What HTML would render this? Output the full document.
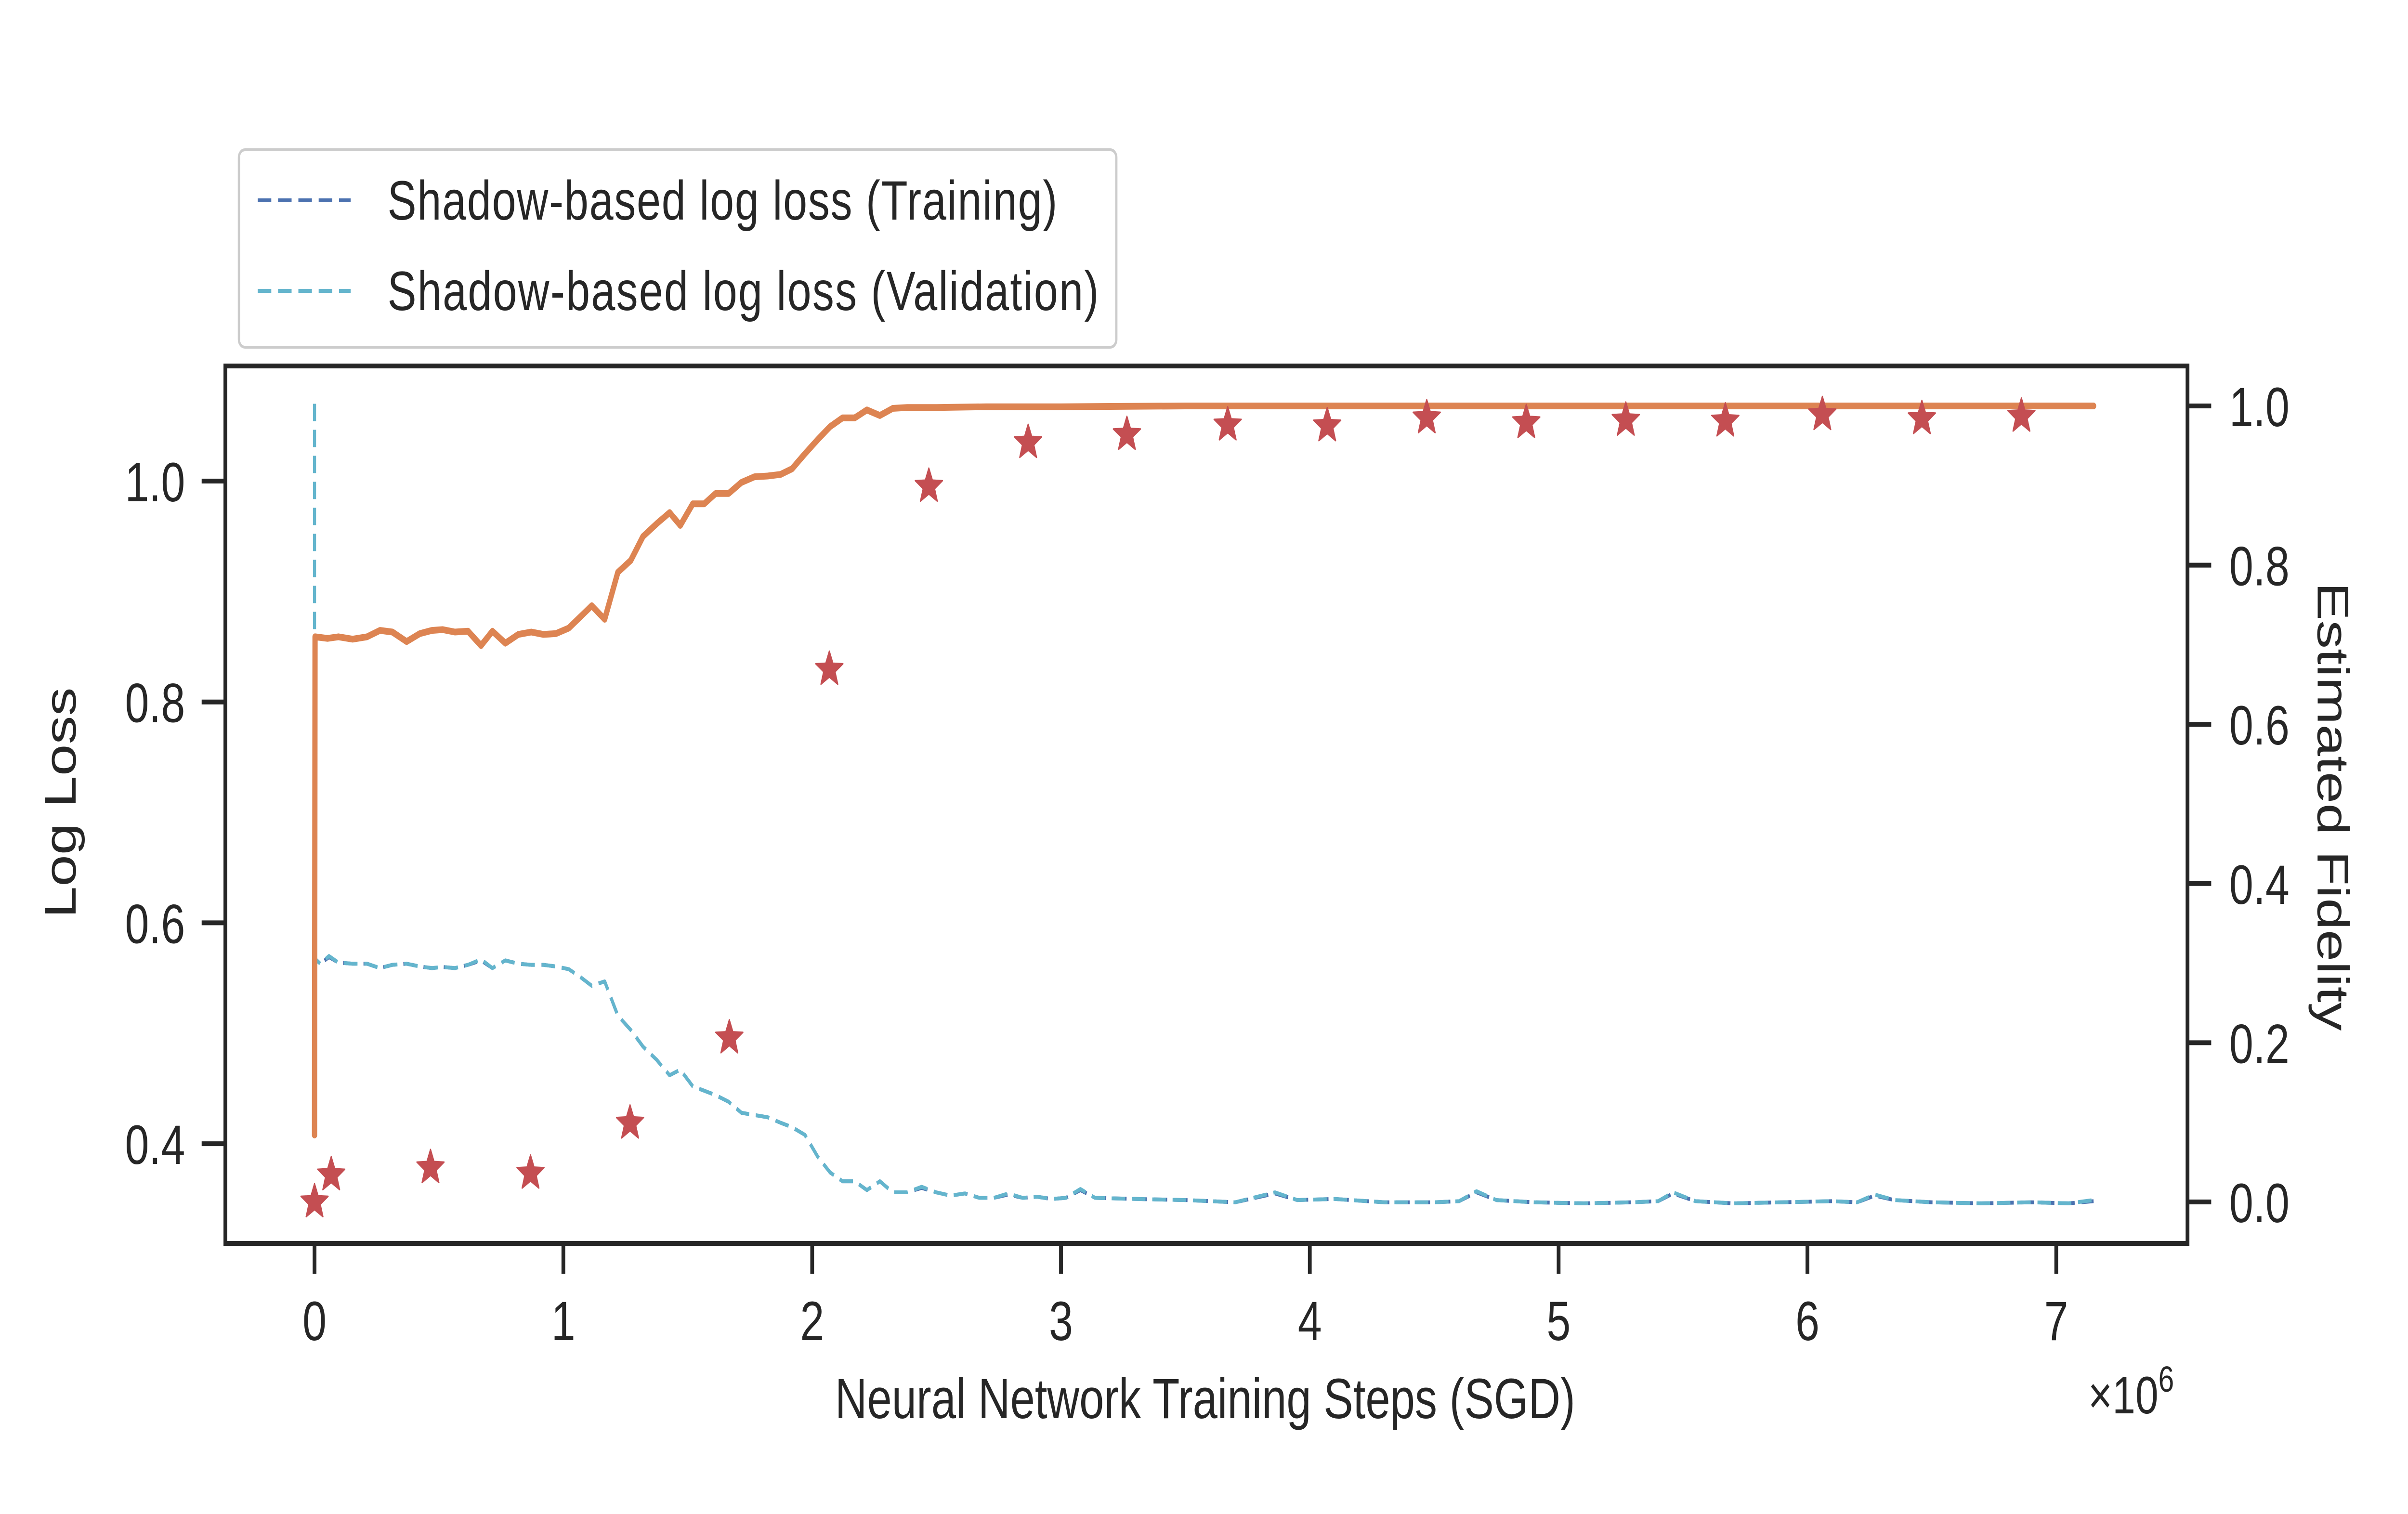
<!DOCTYPE html>
<html><head><meta charset="utf-8"><style>
html,body{margin:0;padding:0;background:#fff;overflow:hidden;width:100%;height:100%;}
svg{display:block;font-family:"Liberation Sans",sans-serif;width:100vw;height:100vh;}
</style></head><body>
<svg id="chart" viewBox="0 0 6400 3144" preserveAspectRatio="none" xmlns="http://www.w3.org/2000/svg">
<rect x="0" y="0" width="6400" height="3144" fill="#fff"/>
<g id="marks"></g>
<g id="axes"></g>
<rect x="599" y="760" width="5215" height="1822" fill="none" stroke="#262626" stroke-width="10"/>
<text x="201" y="1667" font-size="118" fill="#262626" text-anchor="middle" transform="rotate(-90 201 1667)">Log Loss</text>
<text x="6160" y="1675" font-size="118" fill="#262626" text-anchor="middle" transform="rotate(90 6160 1675)">Estimated Fidelity</text>
<text x="3203" y="2945" font-size="118" fill="#262626" text-anchor="middle">Neural Network Training Steps (SGD)</text>
<text x="5550" y="2935" font-size="110" fill="#262626">×10<tspan font-size="75" dy="-45">6</tspan></text>
<g>
<rect x="635" y="311" width="2332" height="410" rx="16" fill="#fff" stroke="#cccccc" stroke-width="6"/>
<line x1="685" y1="416" x2="932" y2="416" stroke="#4c72b0" stroke-width="8" stroke-dasharray="36,18"/>
<text x="1030" y="456" font-size="115" fill="#262626" textLength="1780">Shadow-based log loss (Training)</text>
<line x1="685" y1="604" x2="932" y2="604" stroke="#64b5cd" stroke-width="8" stroke-dasharray="36,18"/>
<text x="1030" y="644" font-size="115" fill="#262626" textLength="1890">Shadow-based log loss (Validation)</text>
</g>
</svg>
<script>
const xTicks = [0,1,2,3,4,5,6,7];
const yLeftTicks = [0.4,0.6,0.8,1.0];
const yRightTicks = [0.0,0.2,0.4,0.6,0.8,1.0];
const fidSteps = [0,0.002,0.052,0.096,0.153,0.211,0.263,0.313,0.370,0.423,0.472,0.515,0.564,0.617,0.669,0.715,0.767,0.819,0.871,0.920,0.970,1.022,1.068,1.114,1.166,1.219,1.271,1.320,1.375,1.427,1.470,1.520,1.566,1.612,1.664,1.716,1.768,1.821,1.873,1.919,1.971,2.023,2.072,2.122,2.171,2.220,2.272,2.324,2.382,2.5,2.7,3.0,3.5,4.0,4.5,5.0,5.5,6.0,6.5,7.15];
const fidValues = [0.084,0.710,0.708,0.710,0.707,0.710,0.718,0.716,0.704,0.714,0.718,0.719,0.716,0.717,0.699,0.717,0.702,0.713,0.716,0.713,0.714,0.721,0.735,0.749,0.732,0.791,0.806,0.836,0.852,0.866,0.850,0.877,0.877,0.890,0.890,0.904,0.911,0.912,0.914,0.921,0.940,0.958,0.974,0.985,0.985,0.995,0.988,0.997,0.998,0.998,0.999,0.999,1.0,1.0,1.0,1.0,1.0,1.0,1.0,1.0];
const lossSteps = [0,0,0.023,0.058,0.096,0.153,0.211,0.263,0.313,0.370,0.423,0.472,0.515,0.564,0.617,0.669,0.715,0.767,0.819,0.871,0.920,0.970,1.022,1.068,1.114,1.166,1.219,1.271,1.320,1.375,1.427,1.470,1.520,1.566,1.612,1.664,1.716,1.768,1.821,1.873,1.919,1.971,2.023,2.072,2.122,2.171,2.220,2.272,2.324,2.382,2.440,2.498,2.556,2.614,2.672,2.730,2.788,2.846,2.904,2.962,3.020,3.078,3.137,3.3,3.5,3.7,3.86,3.95,4.1,4.3,4.5,4.6,4.67,4.75,4.9,5.1,5.3,5.4,5.46,5.55,5.7,5.9,6.1,6.2,6.27,6.35,6.5,6.7,6.9,7.05,7.15];
const valLoss = [1.07,0.568,0.563,0.570,0.564,0.563,0.563,0.559,0.562,0.563,0.5605,0.559,0.560,0.559,0.562,0.567,0.559,0.566,0.563,0.562,0.562,0.5605,0.558,0.551,0.543,0.547,0.516,0.503,0.488,0.476,0.462,0.467,0.452,0.448,0.444,0.438,0.428,0.426,0.424,0.419,0.415,0.408,0.388,0.374,0.366,0.366,0.358,0.366,0.356,0.356,0.361,0.356,0.353,0.355,0.351,0.351,0.355,0.351,0.352,0.350,0.351,0.359,0.351,0.350,0.349,0.347,0.356,0.349,0.350,0.347,0.347,0.348,0.357,0.349,0.347,0.346,0.347,0.348,0.356,0.348,0.346,0.347,0.348,0.347,0.354,0.349,0.347,0.346,0.347,0.346,0.349];
const trainLoss = [0.86,0.568,0.563,0.569,0.564,0.563,0.563,0.559,0.562,0.563,0.5605,0.559,0.560,0.559,0.562,0.566,0.559,0.566,0.563,0.562,0.562,0.5605,0.558,0.551,0.543,0.547,0.516,0.503,0.488,0.476,0.462,0.467,0.452,0.448,0.444,0.438,0.428,0.426,0.424,0.419,0.415,0.408,0.388,0.374,0.366,0.366,0.358,0.366,0.356,0.356,0.360,0.356,0.353,0.355,0.351,0.351,0.354,0.351,0.352,0.350,0.351,0.358,0.351,0.350,0.349,0.347,0.355,0.349,0.350,0.347,0.347,0.348,0.356,0.349,0.347,0.346,0.347,0.348,0.355,0.348,0.346,0.347,0.348,0.347,0.353,0.349,0.347,0.346,0.347,0.346,0.348];
const starSteps = [0,0.067,0.466,0.868,1.268,1.667,2.069,2.469,2.868,3.265,3.67,4.07,4.47,4.87,5.27,5.67,6.06,6.46,6.86];
const starFid = [0.0,0.034,0.043,0.036,0.099,0.206,0.669,0.899,0.954,0.964,0.976,0.975,0.985,0.979,0.982,0.981,0.989,0.984,0.987];

const NS = "http://www.w3.org/2000/svg";
function xMap(s){ return 836 + s*661.3; }
function yLeft(v){ return 999 - (v-1)*2293.5; }
function yRight(f){ return 2496 - f*1653; }
const marks = document.getElementById('marks');
const axes = document.getElementById('axes');
function mk(tag, attrs, parent){
  const e = document.createElementNS(NS, tag);
  for (const k in attrs) e.setAttribute(k, attrs[k]);
  parent.appendChild(e);
  return e;
}
xTicks.forEach(t=>{
  const x = xMap(t);
  const l = mk('line',{x1:x,y1:2582,x2:x,y2:2645,stroke:'#262626','stroke-width':10},axes);
  
  
  const tx = mk('text',{x:x,y:2783,'font-size':115,fill:'#262626','text-anchor':'middle'},axes);
  tx.textContent = String(t);
  
  
});
yLeftTicks.forEach(t=>{
  const y = yLeft(t);
  const l = mk('line',{x1:536,y1:y,x2:599,y2:y,stroke:'#262626','stroke-width':10},axes);
  
  
  const tx = mk('text',{x:492,y:y+42,'font-size':115,fill:'#262626','text-anchor':'end'},axes);
  tx.textContent = t.toFixed(1);
  
  
});
yRightTicks.forEach(t=>{
  const y = yRight(t);
  const l = mk('line',{x1:5814,y1:y,x2:5877,y2:y,stroke:'#262626','stroke-width':10},axes);
  
  
  const tx = mk('text',{x:5925,y:y+42,'font-size':115,fill:'#262626'},axes);
  tx.textContent = t.toFixed(1);
  
  
});
function lossPath(arr){
  return arr.map((v,i)=>(i?'L':'M')+xMap(lossSteps[i]).toFixed(1)+','+yLeft(v).toFixed(1)).join(' ');
}
const tr = mk('path',{d:lossPath(trainLoss),fill:'none',stroke:'#4c72b0','stroke-width':8,'stroke-dasharray':'36,18','stroke-linejoin':'round'},marks);


const va = mk('path',{d:lossPath(valLoss),fill:'none',stroke:'#64b5cd','stroke-width':8,'stroke-dasharray':'36,18','stroke-linejoin':'round'},marks);


const fd = fidValues.map((v,i)=>(i?'L':'M')+xMap(fidSteps[i]).toFixed(1)+','+yRight(v).toFixed(1)).join(' ');
const fl = mk('path',{d:fd,fill:'none',stroke:'#dd8452','stroke-width':14,'stroke-linejoin':'round','stroke-linecap':'round'},marks);


function starPts(cx,cy,R){
  const r = R*0.42, p=[];
  for(let k=0;k<10;k++){
    const a = -Math.PI/2 + k*Math.PI/5;
    const rr = k%2?r:R;
    p.push((cx+rr*Math.cos(a)).toFixed(1)+','+(cy+rr*Math.sin(a)).toFixed(1));
  }
  return p.join(' ');
}
starFid.forEach((v,i)=>{
  const s = mk('polygon',{points:starPts(xMap(starSteps[i]),yRight(v),38),fill:'#c44e52',stroke:'#c44e52','stroke-width':3,'stroke-linejoin':'round'},marks);
  
  
});
</script>
</body></html>
